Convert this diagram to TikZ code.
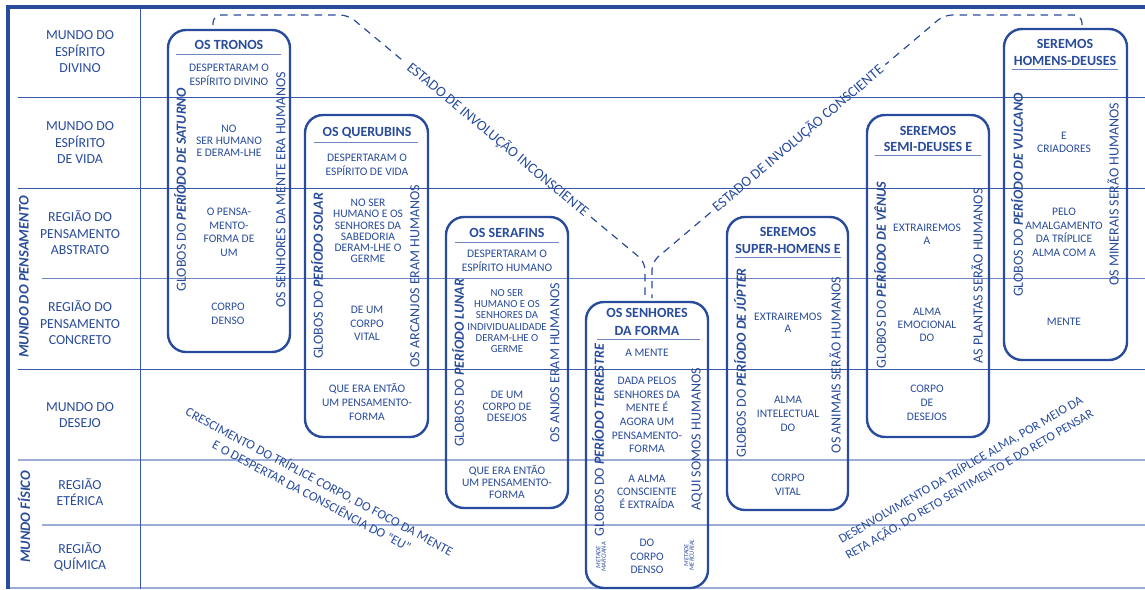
\documentclass[tikz,border=0pt]{standalone}
\usepackage{fontspec}
\setmainfont{Carlito}
\usetikzlibrary{calc}
\definecolor{tb}{RGB}{40,75,155}
\definecolor{ln}{RGB}{55,88,165}
\definecolor{lm}{RGB}{110,135,195}
\definecolor{lt}{RGB}{155,172,215}
\begin{document}
\begin{tikzpicture}[x=1pt,y=-1pt,
  every node/.style={text=tb, inner sep=0pt, align=center},
  lbl/.style={font=\fontsize{13.8}{16.5}\selectfont},
  inn/.style={font=\fontsize{11.5}{13.6}\selectfont},
  ttl/.style={font=\bfseries\fontsize{14}{17}\selectfont},
  vt/.style={rotate=90, font=\fontsize{14}{14}\selectfont},
  sm/.style={rotate=90, font=\itshape\fontsize{6.5}{5.5}\selectfont},
  dg/.style={font=\fontsize{14.5}{14}\selectfont},
  bd/.style={font=\fontsize{13}{16.5}\selectfont},
  gbox/.style={draw=tb, line width=2.4pt, rounded corners=18pt, inner sep=0pt},
  uline/.style={draw=lm, line width=1pt},
  grid/.style={draw=ln, line width=0.9pt},
  gridm/.style={draw=lm, line width=1pt},
  gridl/.style={draw=lt, line width=1.4pt},
  dsh/.style={draw=tb, line width=1.2pt, dash pattern=on 7.5pt off 6pt, rounded corners=8pt},
]
\useasboundingbox (0,0) rectangle (1145,589);
% grid
\draw[grid] (18,97) -- (1145,97);
\draw[grid] (18,188) -- (1145,188);
\draw[gridm] (42,278) -- (1145,278);
\draw[grid] (18,369) -- (1145,369);
\draw[gridl] (18,460) -- (1145,460);
\draw[gridl] (42,525) -- (1145,525);
\draw[gridl] (10,588) -- (1145,588);
\draw[grid] (140,7) -- (140,589);
\draw[tb, line width=3.5pt] (8,589) -- (8,7) -- (1145,7);
% left labels
\node[lbl] (l1) at (80,52) {MUNDO DO\\ESPÍRITO\\DIVINO};
\node[lbl] (l2) at (80,143) {MUNDO DO\\ESPÍRITO\\DE VIDA};
\node[lbl] (l3) at (80,233) {REGIÃO DO\\PENSAMENTO\\ABSTRATO};
\node[lbl] (l4) at (80,323) {REGIÃO DO\\PENSAMENTO\\CONCRETO};
\node[lbl] (l5) at (80,415) {MUNDO DO\\DESEJO};
\node[lbl] (l6) at (80,492) {REGIÃO\\ETÉRICA};
\node[lbl] (l7) at (80,557) {REGIÃO\\QUÍMICA};
\node[rotate=90, font=\bfseries\itshape\fontsize{14.5}{14}\selectfont] (mp) at (24,277) {MUNDO DO PENSAMENTO};
\node[rotate=90, font=\bfseries\itshape\fontsize{14.5}{14}\selectfont] (mf) at (24,517) {MUNDO FÍSICO};
% boxes
\node[gbox, minimum width=122pt, minimum height=322pt] (tronos) at (229,191) {};
\node[gbox, minimum width=123pt, minimum height=322pt] (querub) at (366.5,276) {};
\node[gbox, minimum width=122pt, minimum height=291pt] (seraf) at (507,362.5) {};
\node[gbox, minimum width=122pt, minimum height=286pt] (senh) at (647,445) {};
\node[gbox, minimum width=121pt, minimum height=293pt] (super) at (787.5,363.5) {};
\node[gbox, minimum width=122pt, minimum height=322pt] (semi) at (928,276) {};
\node[gbox, minimum width=123pt, minimum height=331pt] (homens) at (1065.5,194.5) {};
% underlines
\draw[uline] (176,54) -- (281,54);
\draw[uline] (314,142) -- (418,142);
\draw[uline] (455,242) -- (559,242);
\draw[uline] (597,339) -- (700,339);
\draw[uline] (735,257) -- (841,257);
\draw[uline] (875,155) -- (981,155);
\draw[uline] (1012,69) -- (1118,69);
% TRONOS
\node[ttl] (a0) at (229,45) {OS TRONOS};
\node[inn, font=\fontsize{11.5}{14}\selectfont] (a1) at (229,75) {DESPERTARAM O\\ESPÍRITO DIVINO};
\node[inn, font=\fontsize{11.5}{12}\selectfont] (a2) at (229,141) {NO\\SER HUMANO\\E DERAM-LHE};
\node[inn] (a3) at (229,232.5) {O PENSA-\\MENTO-\\FORMA DE\\UM};
\node[inn, font=\fontsize{11.5}{14}\selectfont] (a4) at (228,314) {CORPO\\DENSO};
\node[vt] (a5) at (180,190) {GLOBOS DO \textbf{\textit{PERÍODO DE SATURNO}}};
\node[vt] (a6) at (281,190) {OS SENHORES DA MENTE ERA HUMANOS};
% QUERUBINS
\node[ttl] (b0) at (367,133) {OS QUERUBINS};
\node[inn, font=\fontsize{11.5}{14}\selectfont] (b1) at (367,165) {DESPERTARAM O\\ESPÍRITO DE VIDA};
\node[inn, font=\fontsize{11.5}{11.3}\selectfont] (b2) at (368,231) {NO SER\\HUMANO E OS\\SENHORES DA\\SABEDORIA\\DERAM-LHE O\\GERME};
\node[inn] (b3) at (367,323.5) {DE UM\\CORPO\\VITAL};
\node[inn, font=\fontsize{11.5}{14}\selectfont] (b4) at (367,402) {QUE ERA ENTÃO\\UM PENSAMENTO-\\FORMA};
\node[vt] (b5) at (317,276) {GLOBOS DO \textbf{\textit{PERÍODO SOLAR}}};
\node[vt] (b6) at (415,276) {OS ARCANJOS ERAM HUMANOS};
% SERAFINS
\node[ttl] (c0) at (507,233) {OS SERAFINS};
\node[inn, font=\fontsize{11.5}{14}\selectfont] (c1) at (507,261) {DESPERTARAM O\\ESPÍRITO HUMANO};
\node[inn, font=\fontsize{10.8}{11.3}\selectfont] (c2) at (507,321) {NO SER\\HUMANO E OS\\SENHORES DA\\INDIVIDUALIDADE\\DERAM-LHE O\\GERME};
\node[inn, font=\fontsize{11.5}{11.5}\selectfont] (c3) at (507,406.5) {DE UM\\CORPO DE\\DESEJOS};
\node[inn, font=\fontsize{11.5}{12}\selectfont] (c4) at (507,482) {QUE ERA ENTÃO\\UM PENSAMENTO-\\FORMA};
\node[vt] (c5) at (458,363) {GLOBOS DO \textbf{\textit{PERÍODO LUNAR}}};
\node[vt] (c6) at (555,363) {OS ANJOS ERAM HUMANOS};
% SENHORES DA FORMA
\node[ttl, font=\bfseries\fontsize{14}{18}\selectfont] (d0) at (647,322) {OS SENHORES\\DA FORMA};
\node[inn] (d1) at (647,353) {A MENTE};
\node[inn] (d2) at (647,415) {DADA PELOS\\SENHORES DA\\MENTE É\\AGORA UM\\PENSAMENTO-\\FORMA};
\node[inn, font=\fontsize{11.5}{13}\selectfont] (d3) at (647,492) {A ALMA\\CONSCIENTE\\É EXTRAÍDA};
\node[inn, font=\fontsize{11.5}{13.5}\selectfont] (d4) at (647,556.5) {DO\\CORPO\\DENSO};
\node[vt] (d5) at (598,440) {GLOBOS DO \textbf{\textit{PERÍODO TERRESTRE}}};
\node[vt] (d6) at (697,439) {AQUI SOMOS HUMANOS};
\node[sm] (d7) at (601,557) {METADE\\MARCIANA};
\node[sm] (d8) at (689,555) {METADE\\MERCURIAL};
% SUPER-HOMENS
\node[ttl] (e0) at (788,240.5) {SEREMOS\\SUPER-HOMENS E};
\node[inn, font=\fontsize{11.5}{12}\selectfont] (e1) at (788,323) {EXTRAIREMOS\\A};
\node[inn, font=\fontsize{11.5}{14}\selectfont] (e2) at (788,414) {ALMA\\INTELECTUAL\\DO};
\node[inn, font=\fontsize{11.5}{14}\selectfont] (e3) at (788,485) {CORPO\\VITAL};
\node[vt] (e5) at (740,363) {GLOBOS DO \textbf{\textit{PERÍODO DE JÚPTER}}};
\node[vt] (e6) at (835,365) {OS ANIMAIS SERÃO HUMANOS};
% SEMI-DEUSES
\node[ttl, font=\bfseries\fontsize{14}{16}\selectfont] (f0) at (928,139) {SEREMOS\\SEMI-DEUSES E};
\node[inn, font=\fontsize{11.5}{13}\selectfont] (f1) at (927,234.5) {EXTRAIREMOS\\A};
\node[inn, font=\fontsize{11.5}{13}\selectfont] (f2) at (927,325) {ALMA\\EMOCIONAL\\DO};
\node[inn, font=\fontsize{11.5}{14}\selectfont] (f3) at (927,403) {CORPO\\DE\\DESEJOS};
\node[vt] (f5) at (880,275) {GLOBOS DO \textbf{\textit{PERÍODO DE VÊNUS}}};
\node[vt] (f6) at (977,276) {AS PLANTAS SERÃO HUMANOS};
% HOMENS-DEUSES
\node[ttl] (g0) at (1065,52.5) {SEREMOS\\HOMENS-DEUSES};
\node[inn, font=\fontsize{11.5}{13}\selectfont] (g1) at (1064,142.5) {E\\CRIADORES};
\node[inn] (g2) at (1064,232.5) {PELO\\AMALGAMENTO\\DA TRÍPLICE\\ALMA COM A};
\node[inn] (g3) at (1064,322) {MENTE};
\node[vt] (g5) at (1017,195) {GLOBOS DO \textbf{\textit{PERÍODO DE VULCANO}}};
\node[vt] (g6) at (1113,194) {OS MINERAIS SERÃO HUMANOS};
% dashed involution paths
\coordinate (LT) at (213,25);
\coordinate (LC1) at (213,15);
\coordinate (LC2) at (348,15);
\coordinate (J1) at (645,262);
\coordinate (J1b) at (645,298);
\coordinate (RT) at (1082,25);
\coordinate (RC1) at (1082,15);
\coordinate (RC2) at (944,15);
\coordinate (J2) at (652,262);
\coordinate (J2b) at (652,298);
\path (LC2) -- (J1) node[dg, sloped, pos=0.505, inner xsep=5pt] (inv1) {ESTADO DE INVOLUÇÃO INCONSCIENTE};
\path (J2) -- (RC2) node[dg, sloped, pos=0.5, inner xsep=5pt] (inv2) {ESTADO DE INVOLUÇÃO CONSCIENTE};
\draw[dsh] (LT) -- (LC1) -- (LC2) -- (inv1.west);
\draw[dsh] (inv1.east) -- (J1) -- (J1b);
\draw[dsh] (RT) -- (RC1) -- (RC2) -- (inv2.east);
\draw[dsh] (inv2.west) -- (J2) -- (J2b);
% bottom diagonals
\node[bd, rotate=-28] (cr) at (316,488) {CRESCIMENTO DO TRÍPLICE CORPO, DO FOCO DA MENTE\\E O DESPERTAR DA CONSCIÊNCIA DO “EU”};
\node[bd, rotate=30.3, font=\fontsize{12.7}{17}\selectfont] (de) at (965,477) {DESENVOLVIMENTO DA TRÍPLICE ALMA, POR MEIO DA\\RETA AÇÃO, DO RETO SENTIMENTO E DO RETO PENSAR};
\end{tikzpicture}
\end{document}
